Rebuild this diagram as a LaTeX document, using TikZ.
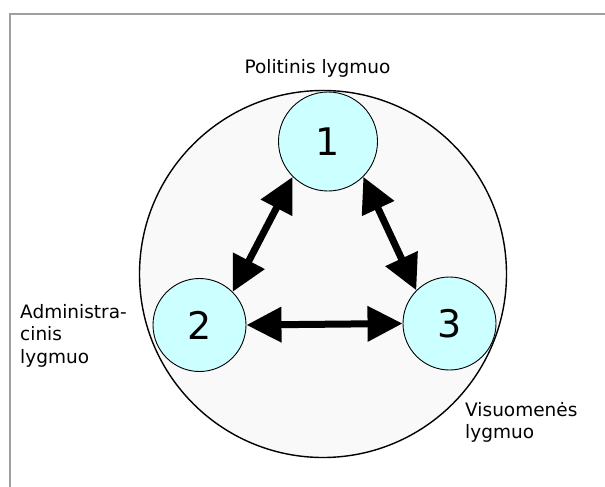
\documentclass[tikz,border=0pt]{standalone}
\usepackage{fontspec}
\setmainfont{DejaVu Sans}
\usetikzlibrary{arrows.meta}
\definecolor{lvlcyan}{HTML}{CCFFFF}
\definecolor{lvlback}{HTML}{F9F9F9}

\begin{document}
\begin{tikzpicture}[x=1pt,y=-1pt]
\useasboundingbox (0,0) rectangle (605,487);
\draw[gray!75, line width=1.5pt] (10,520) -- (10,14) -- (640,14);
\node[circle, draw, line width=1.4pt, fill=lvlback, minimum size=367pt, inner sep=0pt] (lvl0) at (323,274){};
\node[circle, draw, line width=0.9pt, fill=lvlcyan, minimum size=99pt, inner sep=0pt, font=\fontsize{38}{40}\selectfont] (lvl1) at (328,141.5){1};
\node[circle, draw, line width=0.9pt, fill=lvlcyan, minimum size=93pt, inner sep=0pt, font=\fontsize{38}{40}\selectfont] (lvl2) at (199.5,325){2};
\node[circle, draw, line width=0.9pt, fill=lvlcyan, minimum size=93pt, inner sep=0pt, font=\fontsize{38}{40}\selectfont] (lvl3) at (449.5,323.5){3};
\node[inner sep=0pt, anchor=base, font=\fontsize{18.5}{22.5}\selectfont] (txt1) at (317.5,74){Politinis lygmuo};
\node[inner sep=0pt, anchor=north west, align=left, font=\fontsize{18.5}{22.5}\selectfont] (txt2) at (20,304){Administra-\\cinis\\lygmuo};
\node[inner sep=0pt, anchor=north west, align=left, font=\fontsize{18.5}{22.5}\selectfont] (txt3) at (465,402){Visuomenės\\lygmuo};
\draw[line width=7pt, {Triangle[length=35pt,width=34pt]}-{Triangle[length=35pt,width=34pt]}](lvl1.225) -- (lvl2.45);
\draw[line width=7pt, {Triangle[length=35pt,width=34pt]}-{Triangle[length=35pt,width=34pt]}](lvl1.-45) -- (lvl3.135);
\draw[line width=7pt, {Triangle[length=35pt,width=34pt]}-{Triangle[length=35pt,width=34pt]}](lvl2.east) -- (lvl3.west);
\end{tikzpicture}
\end{document}
